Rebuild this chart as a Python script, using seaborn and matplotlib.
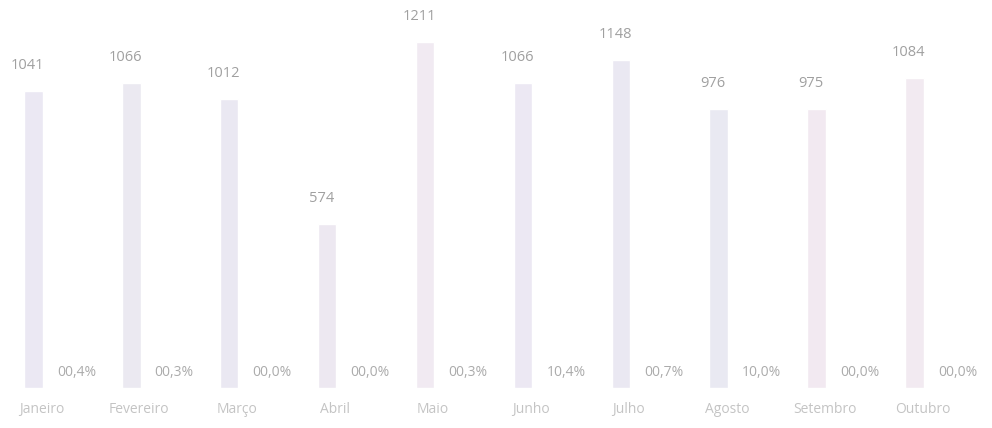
import numpy as np
import pandas as pd
import seaborn as sns
import matplotlib.pyplot as plt
from matplotlib import transforms

# dados
meses = ['Janeiro', 'Fevereiro', 'Março', 'Abril', 'Maio',
         'Junho', 'Julho', 'Agosto', 'Setembro', 'Outubro']
totais = [1041, 1066, 1012, 574, 1211, 1066, 1148, 976, 975, 1084]
percentuais = ['00,4%', '00,3%', '00,0%', '00,0%', '00,3%',
               '10,4%', '00,7%', '10,0%', '00,0%', '00,0%']
cores = ['#ebe8f3', '#ebe9f1', '#eae8f2', '#ede8f1', '#f1eaf2',
         '#ece8f3', '#eae8f2', '#e9e9f2', '#f2e9f1', '#f2eaf1']

df = pd.DataFrame({'mes': meses, 'total': totais})

sns.set_theme(style='white')
plt.rcParams['font.family'] = ['Open Sans', 'DejaVu Sans']

fig = plt.figure(figsize=(9.92, 4.28), dpi=100, facecolor='w')
ax = fig.add_axes([0, 0.0935, 1, 0.9065])

sns.barplot(data=df, x='mes', y='total', hue='mes', palette=cores,
            width=0.19, legend=False, ax=ax, saturation=1)

for i, (v, p) in enumerate(zip(totais, percentuais)):
    ax.annotate(str(v), (i - 0.06, v), xytext=(0, 13), textcoords='offset points',
                ha='center', va='bottom', fontsize=10.5, color='#a0a0a0')
    ax.text(i + 0.44, 55, p, ha='center', va='center', fontsize=10, color='#ababab')

ax.set_xlim(-0.34, 9.79)
ax.set_ylim(0, 1358)
ax.set_xlabel('')
ax.set_ylabel('')
ax.set_yticks([])
ax.tick_params(axis='x', length=0, pad=10, labelsize=10, labelcolor='#c4c4c4')
for lab in ax.get_xticklabels():
    lab.set_transform(lab.get_transform() + transforms.ScaledTranslation(0.08, 0, fig.dpi_scale_trans))
sns.despine(left=True, bottom=True)

plt.savefig('out.png', dpi=100, facecolor='w')
